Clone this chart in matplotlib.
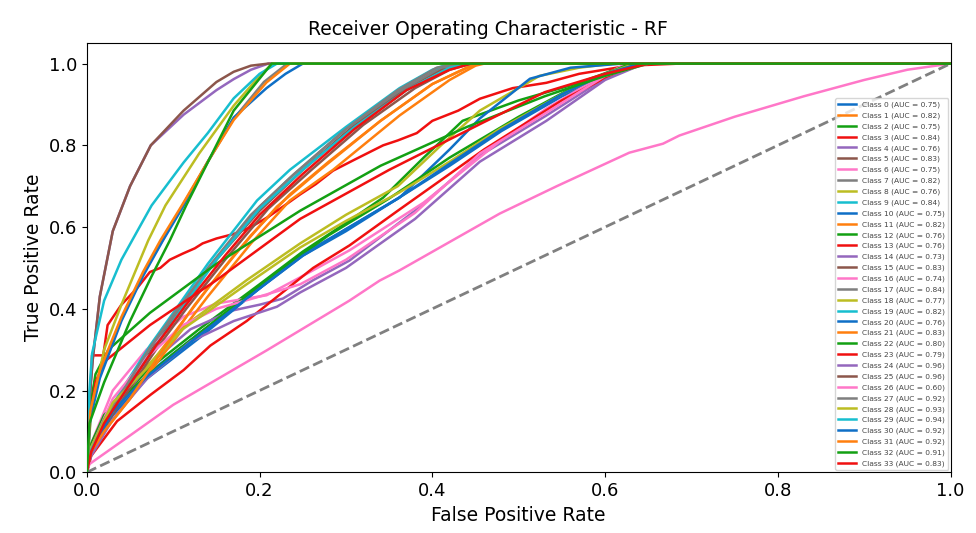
import matplotlib
matplotlib.use('Agg')
import matplotlib.pyplot as plt

# AUC per class
auc_values = [0.75, 0.82, 0.75, 0.84, 0.76, 0.83, 0.75, 0.82, 0.76, 0.84,
              0.75, 0.82, 0.76, 0.76, 0.73, 0.83, 0.74, 0.84, 0.77, 0.82,
              0.76, 0.83, 0.80, 0.79, 0.96, 0.96, 0.60, 0.92, 0.93, 0.94,
              0.92, 0.92, 0.91, 0.83]

# ROC points per class (FPR, TPR)
roc_fpr = [
    [0, 0.005, 0.03, 0.07, 0.13, 0.2, 0.25, 0.3, 0.36, 0.42, 0.48, 0.55, 0.6, 0.64, 1.0],
    [0, 0.005, 0.02, 0.05, 0.09, 0.14, 0.19, 0.235, 0.28, 0.34, 0.4, 0.44, 0.455, 1.0],
    [0, 0.005, 0.03, 0.07, 0.13, 0.2, 0.25, 0.3, 0.343, 0.39, 0.435, 0.5, 0.57, 0.63, 1.0],
    [0, 0.003, 0.006, 0.019, 0.024, 0.04, 0.058, 0.073, 0.085, 0.096, 0.111, 0.125, 0.134,
     0.15, 0.17, 0.19, 0.21, 0.227, 0.247, 0.265, 0.285, 0.31, 0.343, 0.36, 0.382, 0.4,
     0.43, 0.455, 0.493, 0.532, 0.57, 0.628, 0.686, 1.0],
    [0, 0.005, 0.03, 0.07, 0.12, 0.169, 0.2, 0.227, 0.262, 0.304, 0.38, 0.455, 0.532, 0.61, 0.64, 1.0],
    [0, 0.005, 0.02, 0.045, 0.075, 0.11, 0.15, 0.2, 0.25, 0.31, 0.37, 0.41, 0.435, 1.0],
    [0, 0.005, 0.03, 0.069, 0.111, 0.15, 0.208, 0.247, 0.304, 0.39, 0.478, 0.532, 0.58, 0.62, 0.65, 1.0],
    [0, 0.005, 0.02, 0.045, 0.075, 0.1, 0.14, 0.19, 0.235, 0.3, 0.36, 0.41, 0.44, 1.0],
    [0, 0.005, 0.03, 0.07, 0.111, 0.185, 0.247, 0.3, 0.36, 0.41, 0.455, 0.524, 0.57, 0.61, 1.0],
    [0, 0.005, 0.02, 0.04, 0.073, 0.1, 0.14, 0.197, 0.235, 0.3, 0.362, 0.4, 0.42, 1.0],
    [0, 0.005, 0.03, 0.07, 0.131, 0.2, 0.247, 0.304, 0.362, 0.42, 0.455, 0.513, 0.56, 0.62, 1.0],
    [0, 0.005, 0.02, 0.05, 0.092, 0.14, 0.19, 0.235, 0.285, 0.362, 0.42, 0.45, 0.46, 1.0],
    [0, 0.005, 0.02, 0.05, 0.1, 0.16, 0.22, 0.28, 0.35, 0.42, 0.5, 0.57, 0.63, 1.0],
    [0, 0.005, 0.035, 0.074, 0.112, 0.143, 0.185, 0.262, 0.304, 0.36, 0.46, 0.55, 0.6, 0.645, 1.0],
    [0, 0.005, 0.03, 0.07, 0.12, 0.17, 0.22, 0.247, 0.3, 0.38, 0.455, 0.532, 0.6, 0.645, 1.0],
    [0, 0.005, 0.02, 0.045, 0.08, 0.115, 0.16, 0.21, 0.26, 0.32, 0.38, 0.42, 0.445, 1.0],
    [0, 0.005, 0.03, 0.069, 0.111, 0.15, 0.2, 0.247, 0.3, 0.38, 0.455, 0.532, 0.6, 0.65, 1.0],
    [0, 0.005, 0.02, 0.045, 0.073, 0.1, 0.145, 0.2, 0.24, 0.3, 0.36, 0.405, 0.43, 1.0],
    [0, 0.005, 0.03, 0.07, 0.111, 0.185, 0.247, 0.3, 0.362, 0.42, 0.478, 0.55, 0.6, 0.635, 1.0],
    [0, 0.005, 0.02, 0.045, 0.08, 0.11, 0.15, 0.2, 0.25, 0.31, 0.37, 0.42, 0.445, 1.0],
    [0, 0.005, 0.03, 0.07, 0.13, 0.2, 0.25, 0.3, 0.36, 0.42, 0.478, 0.55, 0.6, 0.64, 1.0],
    [0, 0.005, 0.02, 0.05, 0.085, 0.125, 0.17, 0.22, 0.27, 0.34, 0.4, 0.44, 0.455, 1.0],
    [0, 0.003, 0.01, 0.025, 0.073, 0.15, 0.247, 0.34, 0.44, 0.53, 0.6, 0.65, 1.0],
    [0, 0.003, 0.01, 0.02, 0.073, 0.15, 0.247, 0.35, 0.458, 0.53, 0.6, 0.65, 1.0],
    [0, 0.003, 0.007, 0.015, 0.03, 0.05, 0.074, 0.112, 0.15, 0.17, 0.19, 0.21, 1.0],
    [0, 0.003, 0.007, 0.015, 0.03, 0.05, 0.074, 0.112, 0.15, 0.17, 0.19, 0.21, 1.0],
    [0, 0.003, 0.05, 0.1, 0.208, 0.304, 0.339, 0.362, 0.478, 0.544, 0.628, 0.667, 0.686,
     0.75, 0.83, 0.9, 0.95, 1.0],
    [0, 0.004, 0.015, 0.04, 0.065, 0.087, 0.11, 0.14, 0.17, 0.205, 0.232, 1.0],
    [0, 0.005, 0.02, 0.04, 0.071, 0.091, 0.13, 0.17, 0.2, 0.215, 1.0],
    [0, 0.003, 0.006, 0.02, 0.04, 0.061, 0.075, 0.112, 0.14, 0.17, 0.2, 0.22, 1.0],
    [0, 0.004, 0.015, 0.04, 0.065, 0.088, 0.11, 0.14, 0.17, 0.208, 0.23, 0.25, 1.0],
    [0, 0.004, 0.015, 0.04, 0.065, 0.085, 0.11, 0.14, 0.17, 0.208, 0.235, 1.0],
    [0, 0.003, 0.02, 0.05, 0.075, 0.096, 0.115, 0.17, 0.214, 1.0],
    [0, 0.005, 0.02, 0.045, 0.08, 0.115, 0.16, 0.2, 0.25, 0.31, 0.37, 0.42, 0.445, 1.0],
]
roc_tpr = [
    [0, 0.05, 0.15, 0.24, 0.34, 0.45, 0.53, 0.59, 0.67, 0.75, 0.835, 0.92, 0.97, 1.0, 1.0],
    [0, 0.05, 0.11, 0.2, 0.31, 0.45, 0.58, 0.68, 0.76, 0.86, 0.95, 0.99, 1.0, 1.0],
    [0, 0.06, 0.16, 0.25, 0.35, 0.46, 0.54, 0.61, 0.672, 0.77, 0.86, 0.91, 0.953, 1.0, 1.0],
    [0, 0.15, 0.286, 0.286, 0.36, 0.41, 0.45, 0.49, 0.5, 0.52, 0.535, 0.548, 0.56,
     0.572, 0.583, 0.6, 0.625, 0.65, 0.68, 0.705, 0.738, 0.765, 0.8, 0.812, 0.83, 0.86,
     0.885, 0.914, 0.94, 0.953, 0.975, 0.995, 1.0, 1.0],
    [0, 0.05, 0.15, 0.26, 0.35, 0.396, 0.41, 0.425, 0.47, 0.518, 0.64, 0.775, 0.873, 0.978, 1.0, 1.0],
    [0, 0.06, 0.12, 0.2, 0.3, 0.41, 0.52, 0.64, 0.74, 0.85, 0.94, 0.985, 1.0, 1.0],
    [0, 0.07, 0.2, 0.3, 0.38, 0.413, 0.433, 0.477, 0.543, 0.66, 0.81, 0.89, 0.95, 0.995, 1.0, 1.0],
    [0, 0.06, 0.13, 0.21, 0.31, 0.38, 0.5, 0.63, 0.72, 0.84, 0.93, 0.99, 1.0, 1.0],
    [0, 0.06, 0.17, 0.26, 0.355, 0.47, 0.56, 0.63, 0.7, 0.8, 0.885, 0.97, 0.99, 1.0, 1.0],
    [0, 0.06, 0.13, 0.2, 0.31, 0.39, 0.51, 0.665, 0.74, 0.845, 0.94, 0.985, 1.0, 1.0],
    [0, 0.05, 0.14, 0.23, 0.33, 0.45, 0.53, 0.6, 0.672, 0.79, 0.866, 0.963, 0.99, 1.0, 1.0],
    [0, 0.05, 0.1, 0.18, 0.298, 0.43, 0.56, 0.665, 0.74, 0.873, 0.96, 0.995, 1.0, 1.0],
    [0, 0.07, 0.14, 0.2, 0.29, 0.39, 0.49, 0.58, 0.67, 0.77, 0.87, 0.95, 1.0, 1.0],
    [0, 0.04, 0.125, 0.19, 0.25, 0.31, 0.37, 0.5, 0.555, 0.64, 0.79, 0.91, 0.965, 1.0, 1.0],
    [0, 0.04, 0.13, 0.23, 0.32, 0.37, 0.405, 0.44, 0.5, 0.62, 0.76, 0.86, 0.96, 1.0, 1.0],
    [0, 0.05, 0.11, 0.19, 0.3, 0.4, 0.52, 0.645, 0.74, 0.85, 0.94, 0.985, 1.0, 1.0],
    [0, 0.06, 0.18, 0.28, 0.36, 0.4, 0.43, 0.46, 0.52, 0.635, 0.78, 0.88, 0.97, 1.0, 1.0],
    [0, 0.06, 0.13, 0.21, 0.305, 0.385, 0.51, 0.65, 0.73, 0.84, 0.935, 0.99, 1.0, 1.0],
    [0, 0.06, 0.17, 0.255, 0.35, 0.46, 0.55, 0.615, 0.685, 0.76, 0.84, 0.925, 0.975, 1.0, 1.0],
    [0, 0.055, 0.115, 0.2, 0.31, 0.4, 0.52, 0.645, 0.74, 0.845, 0.935, 0.99, 1.0, 1.0],
    [0, 0.05, 0.15, 0.235, 0.335, 0.45, 0.53, 0.595, 0.67, 0.755, 0.836, 0.925, 0.975, 1.0, 1.0],
    [0, 0.05, 0.1, 0.18, 0.29, 0.41, 0.53, 0.65, 0.74, 0.86, 0.95, 0.99, 1.0, 1.0],
    [0, 0.15, 0.24, 0.3, 0.39, 0.51, 0.64, 0.75, 0.845, 0.92, 0.97, 1.0, 1.0],
    [0, 0.12, 0.22, 0.27, 0.36, 0.47, 0.62, 0.74, 0.855, 0.93, 0.975, 1.0, 1.0],
    [0, 0.18, 0.28, 0.43, 0.59, 0.7, 0.8, 0.875, 0.935, 0.962, 0.985, 1.0, 1.0],
    [0, 0.18, 0.28, 0.43, 0.59, 0.7, 0.8, 0.885, 0.955, 0.98, 0.995, 1.0, 1.0],
    [0, 0.02, 0.09, 0.165, 0.298, 0.42, 0.469, 0.494, 0.633, 0.7, 0.782, 0.804, 0.824,
     0.87, 0.92, 0.96, 0.985, 1.0],
    [0, 0.14, 0.24, 0.375, 0.485, 0.565, 0.65, 0.76, 0.865, 0.955, 1.0, 1.0],
    [0, 0.15, 0.3, 0.41, 0.567, 0.653, 0.78, 0.897, 0.97, 1.0, 1.0],
    [0, 0.2, 0.29, 0.42, 0.52, 0.6, 0.653, 0.758, 0.83, 0.915, 0.975, 1.0, 1.0],
    [0, 0.13, 0.23, 0.37, 0.48, 0.567, 0.645, 0.76, 0.868, 0.94, 0.975, 1.0, 1.0],
    [0, 0.15, 0.25, 0.38, 0.49, 0.567, 0.653, 0.76, 0.862, 0.954, 1.0, 1.0],
    [0, 0.12, 0.22, 0.37, 0.48, 0.567, 0.653, 0.885, 1.0, 1.0],
    [0, 0.05, 0.12, 0.2, 0.31, 0.41, 0.53, 0.63, 0.73, 0.84, 0.935, 0.985, 1.0, 1.0],
]

colors = ['#0f6fc6', '#ff7f0e', '#13a013', '#f01010', '#9467bd',
          '#8c564b', '#ff77c8', '#7f7f7f', '#bcbd22', '#17becf']

fig = plt.figure(figsize=(9.76, 5.33), dpi=100)
ax = fig.add_axes([0.089, 0.114, 0.885, 0.805])

for i in range(len(auc_values)):
    # class 32 sits on top of the TPR = 1 line in the original
    z = 3 if i == 32 else 2
    ax.plot(roc_fpr[i], roc_tpr[i], color=colors[i % 10], lw=1.8, zorder=z,
            label=f'Class {i} (AUC = {auc_values[i]:.2f})')

ax.plot([0, 1], [0, 1], color='gray', linestyle='--', lw=2)
ax.set_xlim(0, 1.0)
ax.set_ylim(0, 1.05)
ax.set_xticks([0, 0.2, 0.4, 0.6, 0.8, 1.0])
ax.set_yticks([0, 0.2, 0.4, 0.6, 0.8, 1.0])
ax.tick_params(labelsize=13)
ax.set_xlabel('False Positive Rate', fontsize=13.5)
ax.set_ylabel('True Positive Rate', fontsize=13.5)
ax.set_title('Receiver Operating Characteristic - RF', fontsize=13.5, x=0.464)
leg = ax.legend(loc='lower right', fontsize=5.4, labelspacing=0.55, handlelength=2.4,
                borderaxespad=0.3)
for t in leg.get_texts():
    t.set_color('#444444')

fig.savefig('out.png', dpi=100)
